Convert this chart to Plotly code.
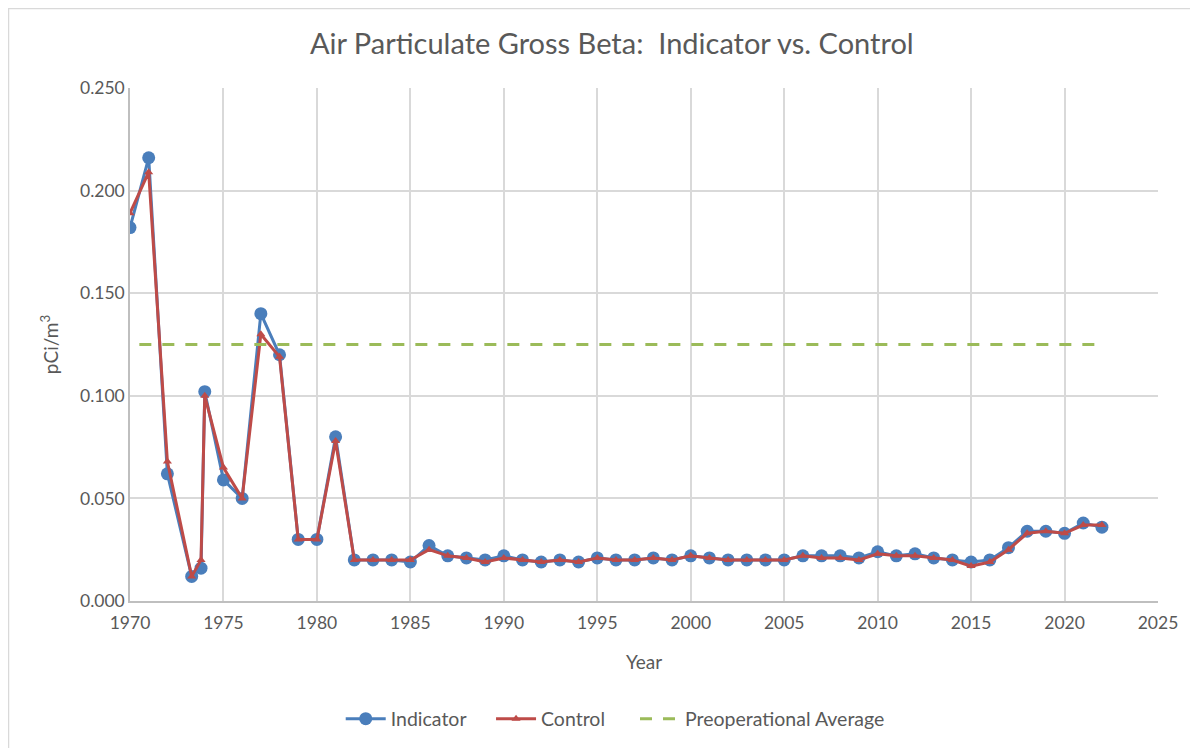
import plotly.graph_objects as go

# ---- data ----
ind_years = [1970, 1971, 1972, 1973.3, 1973.8, 1974, 1975, 1976, 1977, 1978, 1979, 1980, 1981, 1982,
             1983, 1984, 1985, 1986, 1987, 1988, 1989, 1990, 1991, 1992, 1993, 1994, 1995, 1996,
             1997, 1998, 1999, 2000, 2001, 2002, 2003, 2004, 2005, 2006, 2007, 2008, 2009, 2010,
             2011, 2012, 2013, 2014, 2015, 2016, 2017, 2018, 2019, 2020, 2021, 2022]
indicator = [0.182, 0.216, 0.062, 0.012, 0.016, 0.102, 0.059, 0.050, 0.140, 0.120, 0.030, 0.030, 0.080, 0.020,
             0.020, 0.020, 0.019, 0.027, 0.022, 0.021, 0.020, 0.022, 0.020, 0.019, 0.020, 0.019, 0.021, 0.020,
             0.020, 0.021, 0.020, 0.022, 0.021, 0.020, 0.020, 0.020, 0.020, 0.022, 0.022, 0.022, 0.021, 0.024,
             0.022, 0.023, 0.021, 0.020, 0.019, 0.020, 0.026, 0.034, 0.034, 0.033, 0.038, 0.036]
ctl_years = ind_years
control = [0.189, 0.209, 0.068, 0.012, 0.020, 0.100, 0.065, 0.050, 0.130, 0.119, 0.030, 0.030, 0.078, 0.020,
           0.020, 0.020, 0.020, 0.025, 0.022, 0.021, 0.019, 0.021, 0.020, 0.019, 0.020, 0.019, 0.021, 0.020,
           0.020, 0.021, 0.020, 0.022, 0.021, 0.020, 0.020, 0.020, 0.020, 0.022, 0.021, 0.021, 0.020, 0.023,
           0.022, 0.022, 0.021, 0.020, 0.017, 0.019, 0.025, 0.033, 0.034, 0.033, 0.037, 0.037]
preop_years = [1970.5, 2022]
preop_avg = [0.125, 0.125]

x_ticks = [1970, 1975, 1980, 1985, 1990, 1995, 2000, 2005, 2010, 2015, 2020, 2025]
y_ticks = [0.0, 0.05, 0.10, 0.15, 0.20, 0.25]

FONT = "Lato"
GRAY = "#595959"
GRID = "#d9d9d9"
NB = "\u00a0"

fig = go.Figure()
fig.add_trace(go.Scatter(
    x=ind_years, y=indicator, name="Indicator" + NB * 4, mode="lines+markers",
    line=dict(color="#4a7ebb", width=3),
    marker=dict(symbol="circle", size=13, color="#4a7ebb"),
))
fig.add_trace(go.Scatter(
    x=ctl_years, y=control, name="Control" + NB * 5, mode="lines+markers",
    line=dict(color="#be4b48", width=3),
    marker=dict(symbol="triangle-up", size=8, color="#be4b48"),
))
fig.add_trace(go.Scatter(
    x=preop_years, y=preop_avg, name="Preoperational Average", mode="lines",
    line=dict(color="#9bbb59", width=3, dash="12px,11px"),
))

fig.update_layout(
    width=1198, height=748,
    paper_bgcolor="white", plot_bgcolor="white",
    margin=dict(l=122, r=48, t=80, b=155),
    title=dict(text="Air Particulate Gross Beta:  Indicator vs. Control",
               x=0.504, xanchor="center", y=0.952, yanchor="middle",
               font=dict(family=FONT, size=29, color=GRAY)),
    font=dict(family=FONT, color=GRAY, size=17),
    legend=dict(orientation="h", x=0.472, xanchor="center", y=-0.230, yanchor="middle",
                font=dict(family=FONT, size=19.5, color=GRAY), itemwidth=40,
                tracegroupgap=0),
    showlegend=True,
    shapes=[dict(type="rect", xref="paper", yref="paper",
                 x0=-0.1182, y0=-1, x1=2, y1=1.155,
                 line=dict(color="#d9d9d9", width=1.5), fillcolor="rgba(0,0,0,0)",
                 layer="below")],
)
fig.update_xaxes(
    range=[1970, 2025], tickvals=x_ticks, ticktext=[str(v) for v in x_ticks],
    showgrid=True, gridcolor=GRID, gridwidth=1.5,
    showline=True, linecolor="#bfbfbf", linewidth=1.5, mirror=False,
    zeroline=False, ticks="outside", ticklen=5, tickcolor="rgba(0,0,0,0)",
    tickfont=dict(family=FONT, size=17.5, color=GRAY),
    title=dict(text="Year", font=dict(family=FONT, size=19, color=GRAY), standoff=24),
)
fig.update_yaxes(
    range=[0, 0.25], tickvals=y_ticks, tickformat=".3f",
    showgrid=True, gridcolor=GRID, gridwidth=1.5,
    showline=True, linecolor="#bfbfbf", linewidth=1.5,
    zeroline=False, ticks="",
    tickfont=dict(family=FONT, size=17.5, color=GRAY),
    title=dict(text="pCi/m<sup>3</sup>", font=dict(family=FONT, size=19, color=GRAY), standoff=16),
)

fig.write_html("out.html")
